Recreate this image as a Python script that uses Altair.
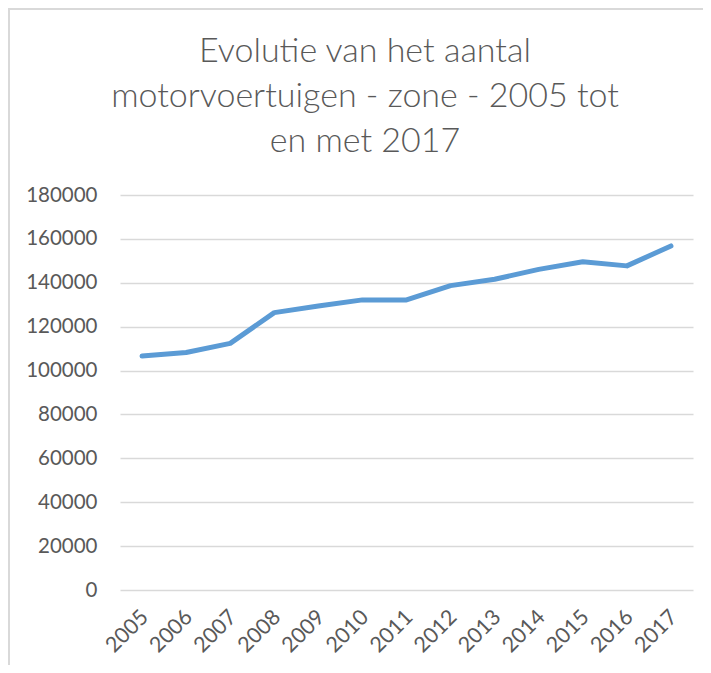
import altair as alt
import pandas as pd

years = ["2005", "2006", "2007", "2008", "2009", "2010", "2011",
         "2012", "2013", "2014", "2015", "2016", "2017"]
vehicles = [106600, 108200, 112400, 126400, 129400, 132200, 132200,
            138700, 141600, 146100, 149600, 147700, 156800]
title_lines = ["Evolutie van het aantal",
               "motorvoertuigen - zone - 2005 tot",
               "en met 2017"]

df = pd.DataFrame({"jaar": years, "aantal": vehicles})

FONT = "Lato"
GREY = "#595959"

line = alt.Chart(df).mark_line(color="#5b9bd5", strokeWidth=5, strokeCap="round", strokeJoin="round").encode(
    x=alt.X("jaar:O", sort=years,
            scale=alt.Scale(type="point", padding=0.5),
            axis=alt.Axis(title=None, labelAngle=-45, labelFontSize=21.5, labelColor=GREY,
                          labelFont=FONT, ticks=False, domain=False, labelPadding=16,
                          labelOffset=-5, grid=False)),
    y=alt.Y("aantal:Q",
            scale=alt.Scale(domain=[0, 180000], nice=False),
            axis=alt.Axis(title=None, values=list(range(0, 180001, 20000)), format="d",
                          labelFontSize=20.5, labelColor=GREY, labelFont=FONT,
                          ticks=False, domain=False, labelPadding=23,
                          grid=True, gridColor="#d9d9d9", gridWidth=1.3)),
)

frame_data = alt.Data(values=[{"k": 1}])
left_border = alt.Chart(frame_data).mark_rule(color="#d9d9d9", strokeWidth=2).encode(
    x=alt.value(-111), y=alt.value(-187), y2=alt.value(478))
top_border = alt.Chart(frame_data).mark_rule(color="#d9d9d9", strokeWidth=2).encode(
    x=alt.value(-111), x2=alt.value(583), y=alt.value(-186))

title_layers = []
title_baselines = [-133, -88, -43]
for txt, yb in zip(title_lines, title_baselines):
    title_layers.append(
        alt.Chart(frame_data).mark_text(font=FONT, fontSize=34, fontWeight=300, color=GREY,
                                        align="center", baseline="alphabetic").encode(
            x=alt.value(245), y=alt.value(yb), text=alt.value(txt))
    )

chart = alt.layer(left_border, top_border, *title_layers, line).properties(
    width=573, height=395,
    autosize=alt.AutoSizeParams(type="none"),
    padding={"left": 112, "top": 187, "right": 10, "bottom": 75},
).configure_view(stroke=None)

chart.save("out.html", embed_options={"renderer": "svg", "actions": False})
